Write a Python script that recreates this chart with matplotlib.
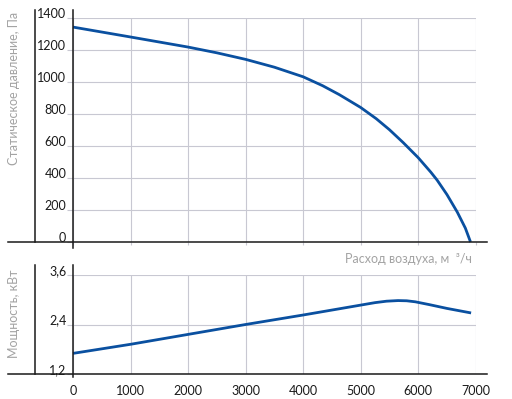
import matplotlib
matplotlib.use("Agg")
import matplotlib.pyplot as plt
from matplotlib.lines import Line2D

# air flow, m3/h  vs  static pressure, Pa
flow_p = [0, 1000, 2000, 2500, 3000, 3500, 4000, 4340, 4630, 5000, 5270,
          5500, 5740, 6000, 6220, 6330, 6500, 6680, 6820, 6910]
pressure = [1345, 1283, 1220, 1184, 1143, 1094, 1034, 978, 922, 842, 772,
            703, 622, 528, 437, 387, 297, 187, 87, 0]

# air flow vs power, kW
flow_n = [0, 1000, 2000, 3000, 4000, 5000, 5250, 5450, 5650, 5800, 5950,
          6200, 6500, 6920]
power = [1.70, 1.92, 2.16, 2.40, 2.63, 2.87, 2.93, 2.965, 2.98, 2.975, 2.95,
         2.88, 2.79, 2.68]

x_ticks = [0, 1000, 2000, 3000, 4000, 5000, 6000, 7000]
p_ticks = [0, 200, 400, 600, 800, 1000, 1200, 1400]
n_ticks = [1.2, 2.4, 3.6]
n_labels = ["1,2", "2,4", "3,6"]

W, H = 512, 399
GRID = "#c8c8d2"
BLUE = "#0a50a0"
INK = "#1a1a1a"
GREY = "#a3a3a3"

plt.rcParams["font.family"] = ["Lato", "DejaVu Sans"]
plt.rcParams["font.size"] = 9

fig = plt.figure(figsize=(W / 100, H / 100), dpi=100)


def fx(x):
    return x / W


def fy(y):
    return 1 - y / H


def fline(x0, y0, x1, y1, **kw):
    fig.add_artist(Line2D([fx(x0), fx(x1)], [fy(y0), fy(y1)],
                          transform=fig.transFigure, **kw))


x_left, x_right = 73, 475.7
ax1 = fig.add_axes([fx(x_left), fy(242), (x_right - x_left) / W, (242 - 18.3) / H])
ax2 = fig.add_axes([fx(x_left), fy(374), (x_right - x_left) / W, (374 - 275) / H])

ax1.plot(flow_p, pressure, color=BLUE, lw=2.0, clip_on=False, zorder=3,
         solid_capstyle="butt", solid_joinstyle="round")
ax2.plot(flow_n, power, color=BLUE, lw=2.0, clip_on=False, zorder=3,
         solid_capstyle="butt", solid_joinstyle="round")

ax1.set_xlim(0, 7000)
ax1.set_ylim(0, 1400)
ax2.set_xlim(0, 7000)
ax2.set_ylim(1.2, 3.6)

for ax in (ax1, ax2):
    for s in ax.spines.values():
        s.set_visible(False)
    ax.set_xticks(x_ticks)
    ax.grid(True, color=GRID, lw=0.8)
    ax.set_axisbelow(True)

ax1.set_yticks(p_ticks)
ax1.set_yticklabels([str(v) for v in p_ticks])
ax2.set_yticks(n_ticks)
ax2.set_yticklabels(n_labels)
for ax in (ax1, ax2):
    ax.tick_params(axis="y", length=4.3, width=0.8, color=GRID, pad=0.5,
                   labelcolor=INK)
    for lbl in ax.get_yticklabels():
        lbl.set_va("baseline")

ax1.tick_params(axis="x", length=2.5, width=0.8, color=GRID, labelbottom=False)
ax2.tick_params(axis="x", length=0, pad=8, labelcolor=INK)

# frame lines
fline(8, 242, 487, 242, color=INK, lw=1.1)
fline(73, 10, 73, 248, color=INK, lw=1.1)
fline(35, 10, 35, 242, color=INK, lw=1.1)
fline(8, 374, 487, 374, color=INK, lw=1.1)
fline(73, 265, 73, 377, color=INK, lw=1.1)
fline(35, 265, 35, 374, color=INK, lw=1.1)

fig.text(fx(14), fy(88), "Статическое давление, Па", rotation=90,
         ha="center", va="center", color=GREY, fontsize=9)
fig.text(fx(14), fy(314), "Мощность, кВт", rotation=90,
         ha="center", va="center", color=GREY, fontsize=9)
fig.text(fx(472), fy(259), "Расход воздуха, м  ³/ч", ha="right",
         va="center", color=GREY, fontsize=9)

fig.savefig("out.png", dpi=100)
